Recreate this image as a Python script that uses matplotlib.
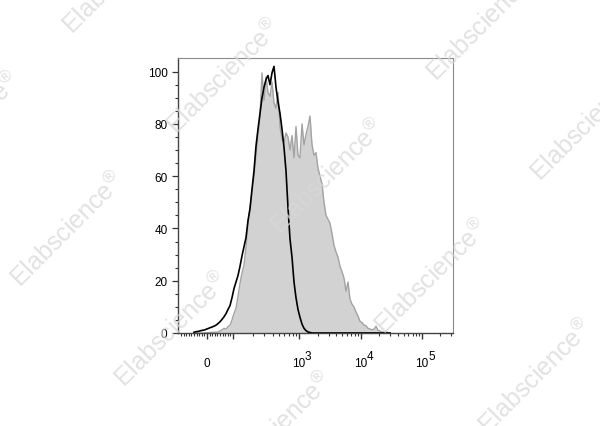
import numpy as np
import matplotlib.pyplot as plt

plt.rcParams['font.family'] = ['Liberation Sans', 'DejaVu Sans']
plt.rcParams['mathtext.fontset'] = 'custom'
plt.rcParams['mathtext.rm'] = 'Liberation Sans'

# ------------------------------------------------
# histogram data, biexponential display channels (axis = 275 channels)
# ------------------------------------------------
channel = np.arange(16, 214, 2)

# unstained control (black line)
unstained = [0.3, 0.5, 0.6, 0.8, 1.0, 1.1, 1.4, 1.7, 2.0, 2.3,
             2.6, 3.0, 3.6, 4.3, 5.2, 6.2, 7.4, 9.0, 10.5, 13.5,
             17.0, 19.5, 22.0, 25.5, 29.5, 33.0, 36.5, 43.0, 47.5, 55.0,
             62.0, 71.5, 78.0, 84.0, 90.0, 94.0, 97.0, 98.5, 95.0, 99.5,
             102.0, 94.0, 88.5, 84.0, 78.0, 71.0, 62.0, 48.0, 36.0, 29.0,
             19.5, 13.5, 9.0, 6.0, 3.4, 1.8, 0.9, 0.4, 0.2] + [0.0] * 40

# stained sample (grey filled)
stained = [0.0, 0.0, 0.0, 0.0, 0.0, 0.0, 0.1, 0.1, 0.2, 0.2,
           0.3, 0.3, 0.4, 0.8, 1.2, 1.8, 1.5, 2.4, 3.0, 5.0,
           7.5, 9.5, 14.0, 19.0, 23.0, 26.0, 33.0, 42.0, 48.0, 54.0,
           60.0, 68.0, 76.0, 83.0, 99.5, 89.0, 98.0, 92.0, 90.5, 96.0,
           88.0, 86.0, 92.0, 79.0, 74.0, 73.0, 76.5, 75.0, 70.0, 75.5,
           67.0, 79.0, 68.0, 67.0, 80.0, 72.0, 76.0, 79.0, 83.0, 72.0,
           68.0, 69.0, 63.0, 60.0, 57.0, 50.0, 45.0, 43.5, 42.0, 38.0,
           33.5, 31.0, 29.0, 25.5, 23.5, 21.0, 16.0, 19.5, 13.0, 11.0,
           10.0, 8.0, 6.5, 4.5, 4.0, 3.0, 2.8, 1.8, 1.5, 1.2,
           1.5, 2.6, 1.0, 0.8, 0.4, 0.3, 0.5, 0.2, 0.1]

# biex axis: channel of 0 and of each decade
dec_chan = [29, 55, 121, 183, 244]
dec_labels = ['0', '', '10', '10', '10']
dec_exp = ['', '', '3', '4', '5']

minor = [29 + 26 * v / 100 for v in range(-100, 100, 10) if v != 0]
for lo, hi in zip(dec_chan[1:], dec_chan[2:] + [305]):
    for m in range(2, 10):
        c = lo + (hi - lo) * np.log10(m)
        if c < 275:
            minor.append(c)

# ------------------------------------------------
# plot
# ------------------------------------------------
fig = plt.figure(figsize=(6, 4.27), dpi=100)
ax = fig.add_axes([178 / 600, 1 - 334 / 427, 275 / 600, 275 / 427])

ax.fill_between(channel, stained, 0, color='#d2d2d2', lw=0, zorder=1)
ax.plot(channel, stained, color='#a3a3a3', lw=1.0, zorder=2)
ax.plot(channel, unstained, color='black', lw=1.2, zorder=3)

ax.set_xlim(0, 275)
ax.set_ylim(0, 105.2)

ax.set_yticks(range(0, 101, 20))
ax.set_yticks(range(0, 101, 5), minor=True)
ax.set_xticks(dec_chan)
ax.set_xticklabels(dec_labels)
ax.set_xticks(minor, minor=True)

ax.tick_params(axis='y', which='major', length=4.5, width=0.9, pad=3,
               labelsize=8.5, color='#333333')
ax.tick_params(axis='y', which='minor', length=2.2, width=0.8, color='#333333')
ax.tick_params(axis='x', which='major', length=4, width=1.0, pad=20,
               labelsize=8.5, color='#333333')
ax.tick_params(axis='x', which='minor', length=2.2, width=0.8, color='#333333')
for lab in ax.get_xticklabels():
    lab.set_verticalalignment('baseline')

# superscript exponents next to the "10" labels
for c, e in zip(dec_chan, dec_exp):
    if e:
        ax.text(c + 6, -26 / 275, e, transform=ax.get_xaxis_transform(),
                fontsize=8.5, ha='left', va='baseline', color='black')

for s in ['left', 'bottom']:
    ax.spines[s].set_color('#444444')
    ax.spines[s].set_linewidth(1.0)
for s in ['top', 'right']:
    ax.spines[s].set_color('#8a8a8a')
    ax.spines[s].set_linewidth(0.8)

# watermark
W, H = 600, 427
for row, count in [((380, -76), 4), ((120, -23), 5), ((-36, 130), 4)]:
    for k in range(count):
        cx = row[0] + 104 * k
        cy = row[1] + 100 * k
        fig.text(cx / W, 1 - cy / H, r'Elabscience$^{\circledR}$', fontsize=18,
                 rotation=45, ha='center', va='center', color='#d8d8d8',
                 alpha=0.75, zorder=10)

fig.savefig('out.png', dpi=100)
